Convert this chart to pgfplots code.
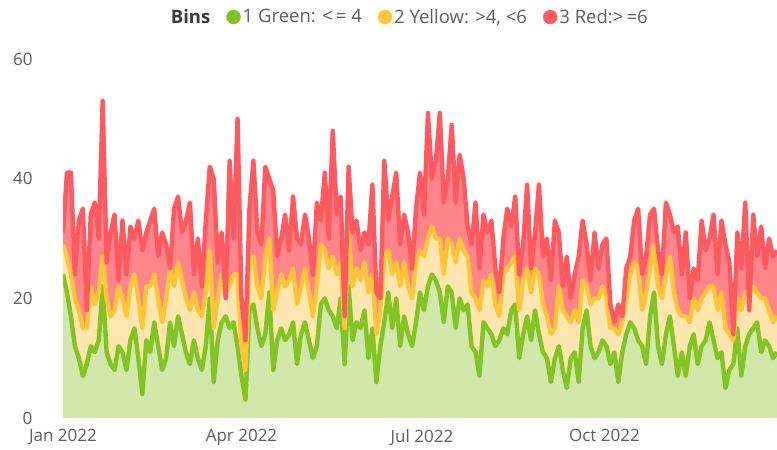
\documentclass[border=0pt]{standalone}
\usepackage{pgfplots}
\pgfplotsset{compat=1.18}
\usepackage{pgfplotstable}
\usepackage{fontspec}
\setmainfont{Open Sans}
\definecolor{gline}{HTML}{82C423}
\definecolor{gfill}{HTML}{D0E8AA}
\definecolor{yline}{HTML}{FFC53A}
\definecolor{yfill}{HTML}{FFE6AE}
\definecolor{rline}{HTML}{FF5A60}
\definecolor{rfill}{HTML}{FF858B}
\definecolor{txt}{HTML}{605E5C}
\definecolor{dark}{HTML}{3B3A39}
\pgfplotstableread{
d g gy t
0 24 29 31
2 21 27 41
4 17 24 41
6 12 20 24
8 10 18 33
10 7 15 35
12 9 15 18
14 12 22 34
16 11 19 36
18 13 21 30
20 22 27 53
22 11 20 26
24 9 17 31
26 8 18 34
28 12 22 23
30 11 20 33
32 8 17 24
34 13 22 32
36 15 24 30
38 10 20 33
40 4 15 28
42 13 22 31
44 11 22 33
46 16 24 35
48 12 20 27
50 8 16 31
52 10 20 29
54 16 25 25
56 12 22 35
58 17 26 37
60 14 23 31
62 11 20 33
64 9 18 36
66 13 21 24
68 10 18 30
70 8 17 22
72 12 21 33
74 20 28 42
76 6 15 40
78 13 20 26
80 16 24 31
82 17 21 20
84 15 22 43
86 16 24 30
88 12 24 50
90 7 12 20
92 3 8 13
94 18 26 35
96 19 27 43
98 15 22 31
100 12 20 29
102 14 27 42
104 21 30 40
106 8 18 38
108 13 21 27
110 15 24 30
112 13 22 34
114 14 23 28
116 16 25 37
118 9 19 30
120 14 22 29
122 16 25 34
124 13 21 30
126 10 17 24
128 12 22 36
130 19 29 33
132 20 28 41
134 18 25 30
136 17 27 48
138 15 24 34
140 20 26 37
142 9 15 17
144 22 31 42
146 13 22 31
148 16 25 33
150 15 23 28
152 18 26 31
154 10 21 29
156 15 24 39
158 6 14 21
160 12 18 20
162 16 27 43
164 21 28 33
166 15 24 37
168 20 26 41
170 12 22 29
172 17 26 34
174 14 22 31
176 12 20 25
178 16 26 35
180 21 28 41
182 18 27 34
184 22 30 51
186 24 32 40
188 23 30 43
190 21 30 51
192 16 24 36
194 22 30 40
196 21 29 49
198 15 26 36
200 20 30 44
202 18 28 40
204 19 27 32
206 12 21 29
208 11 20 36
210 7 18 25
212 16 23 34
214 15 22 31
216 14 24 33
218 12 19 25
220 13 17 21
222 15 24 30
224 14 25 35
226 18 26 32
228 19 27 37
230 10 18 24
232 14 23 29
234 17 25 39
236 13 21 25
238 18 25 31
240 14 24 39
242 11 19 27
244 10 17 30
246 6 14 23
248 10 15 33
250 12 22 31
252 8 18 22
254 5 17 27
256 10 16 20
258 11 18 24
260 6 16 27
262 15 23 33
264 18 22 29
266 12 19 23
268 10 20 31
270 11 20 25
272 13 22 29
274 12 20 30
276 9 15 19
278 11 15 16
280 6 14 19
282 11 16 17
284 14 20 25
286 16 24 27
288 15 26 33
290 13 25 35
292 12 18 24
294 9 21 27
296 17 25 34
298 21 29 35
300 12 22 28
302 9 20 24
304 14 24 36
306 17 27 34
308 12 21 31
310 7 18 32
312 11 17 24
314 7 17 31
316 12 16 20
318 14 20 25
320 9 18 23
322 12 20 33
324 13 21 28
326 16 22 30
328 13 22 34
330 10 18 24
332 11 21 33
334 5 15 29
336 8 14 26
338 9 13 14
340 15 20 31
342 7 18 25
344 12 21 36
346 14 20 18
348 15 22 34
350 16 21 27
352 11 20 32
354 13 20 25
356 12 18 30
358 10 16 27
360 11 17 28
}\data
\begin{document}
\begin{tikzpicture}
\useasboundingbox (0,0) rectangle (777pt,450pt);
\begin{axis}[
  at={(63pt,32pt)}, anchor=south west,
  scale only axis, width=714pt, height=359pt,
  xmin=0, xmax=360, ymin=0, ymax=60,
  axis line style={draw=none},
  tick style={draw=none},
  clip=true,
  xtick={0,90,181,273},
  xticklabels={Jan 2022, Apr 2022, Jul 2022, Oct 2022},
  ytick={0,20,40,60},
  major tick length=0pt,
  /pgf/number format/assume math mode=true,
  tick label style={font=\fontsize{17}{19}\selectfont, text=txt},
  xticklabel style={anchor=north, yshift=-8pt},
  yticklabel style={anchor=east, xshift=-27pt},
  legend columns=4,
  legend style={at={(0.485,1.117)}, anchor=center, draw=none, fill=none,
    font=\fontsize{18.5}{21}\selectfont, text=txt,
    /tikz/every even column/.append style={column sep=14pt},
    /tikz/every odd column/.append style={column sep=0pt}},
  legend cell align=left,
  line join=round,
]
\addlegendimage{empty legend}
\addlegendentry{\textcolor{dark}{\textbf{Bins}}}
\addlegendimage{legend image code/.code={\fill[gline] (0pt,0pt) circle (7pt);}}
\addlegendentry{1 Green: <\,= 4}
\addlegendimage{legend image code/.code={\fill[yline] (0pt,0pt) circle (7pt);}}
\addlegendentry{2 Yellow: >4, <6}
\addlegendimage{legend image code/.code={\fill[rline] (0pt,0pt) circle (7pt);}}
\addlegendentry{3 Red:>\,=6}

\addplot[forget plot, draw=none, fill=rfill] table[x=d,y=t]{\data} \closedcycle;
\addplot[forget plot, draw=none, fill=yfill] table[x=d,y=gy]{\data} \closedcycle;
\addplot[forget plot, draw=none, fill=gfill] table[x=d,y=g]{\data} \closedcycle;
\addplot[forget plot, gline, line width=4.4pt] table[x=d,y=g]{\data};
\addplot[forget plot, yline, line width=4.4pt] table[x=d,y=gy]{\data};
\addplot[forget plot, rline, line width=4.4pt] table[x=d,y=t]{\data};
\end{axis}
\end{tikzpicture}
\end{document}
